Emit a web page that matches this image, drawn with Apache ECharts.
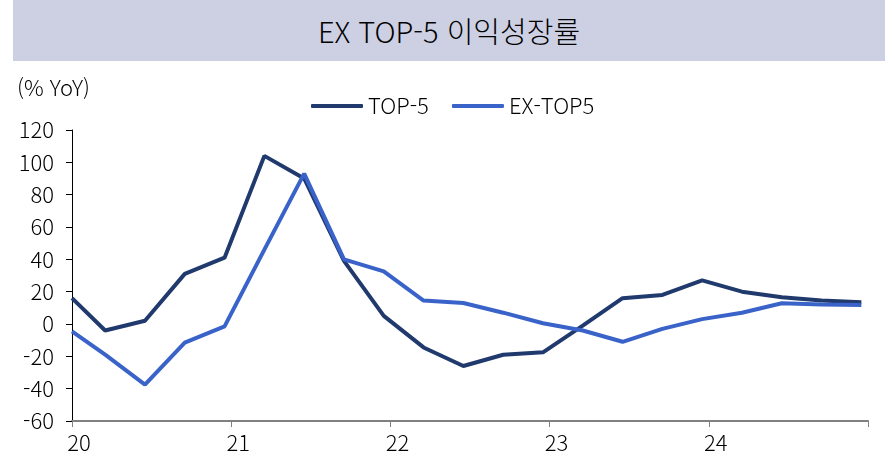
<!doctype html>
<html lang="ko">

<head>
    <meta charset="UTF-8">
    <title>EX TOP-5 이익성장률</title>
    <style>
        body { margin: 0; background: #fff; }
        #title {
            position: absolute; left: 13px; top: 0; width: 872px; height: 61px;
            background: #CDD0E3; color: #000;
            font-family: "Noto Sans CJK KR", sans-serif; font-size: 29px; font-weight: 300;
            line-height: 61px; text-align: center;
        }
    </style>
</head>

<body>
    <div id="title">EX TOP-5 이익성장률</div>
    <div id="main" style="width: 895px;height:469px;"></div>
    <script src="https://cdn.jsdelivr.net/npm/echarts@6/dist/echarts.min.js"></script>
    <script>
        // 분기 데이터 위치 (2020년 1월 기준 개월 수)
        var months = [0, 2.5, 5.5, 8.5, 11.5, 14.5, 17.5, 20.5, 23.5, 26.5, 29.5,
            32.5, 35.5, 38.5, 41.5, 44.5, 47.5, 50.5, 53.5, 56.5, 59.5];
        var yearLabels = ['20', '21', '22', '23', '24'];
        var top5 = [16, -4, 2, 31, 41, 104, 90, 39, 5, -14.5, -26,
            -19, -17.5, -1, 16, 18, 27, 20, 16.5, 14.5, 13.5];
        var exTop5 = [-4.5, -19, -37.5, -11.5, -1.5, 46, 93, 40, 32.5, 14.5, 13,
            7, 0.5, -4, -11, -3, 3, 7, 12.8, 12, 11.7];

        var font = '"Noto Sans CJK KR", sans-serif';
        var myChart = echarts.init(document.getElementById('main'));

        function pairs(vals) {
            return vals.map(function (v, i) { return [months[i], v]; });
        }

        var option = {
            animation: false,
            textStyle: { fontFamily: font, fontWeight: 300 },
            graphic: [{
                type: 'text', left: 17, top: 77,
                style: { text: '(% YoY)', font: '300 22px ' + font, fill: '#000' }
            }],
            legend: {
                left: 306, top: 90,
                itemWidth: 52, itemHeight: 4, itemGap: 24,
                icon: 'roundRect',
                textStyle: { fontSize: 22, color: '#000', fontFamily: font, fontWeight: 300 },
                data: ['TOP-5', 'EX-TOP5']
            },
            grid: { left: 72, right: 27, top: 130, bottom: 48 },
            xAxis: [{
                type: 'value', min: 0, max: 60, interval: 12,
                axisLine: { show: false }, axisTick: { show: false }, splitLine: { show: false },
                axisLabel: {
                    fontSize: 22, fontWeight: 300, color: '#000', margin: 11, padding: [0, 0, 0, 14],
                    formatter: function (v) { return yearLabels[v / 12] || ''; }
                }
            }, {
                type: 'value', min: 0, max: 60, interval: 12, position: 'bottom',
                axisLine: { onZero: true, lineStyle: { color: '#808080', width: 2 } },
                axisTick: { show: true, length: 6, lineStyle: { color: '#808080' } },
                axisLabel: { show: false }, splitLine: { show: false }
            }],
            yAxis: {
                type: 'value', min: -60, max: 120, interval: 20,
                axisLine: { show: true, lineStyle: { color: '#000' } },
                axisTick: { show: true, length: 6, lineStyle: { color: '#000' } },
                axisLabel: { fontSize: 22, fontWeight: 300, color: '#000', margin: 18 },
                splitLine: { show: false }
            },
            series: [{
                name: 'TOP-5', type: 'line', xAxisIndex: 0, showSymbol: false,
                color: '#213A6E', lineStyle: { width: 4 },
                data: pairs(top5)
            }, {
                name: 'EX-TOP5', type: 'line', xAxisIndex: 0, showSymbol: false,
                color: '#3A63C9', lineStyle: { width: 4 },
                data: pairs(exTop5)
            }]
        };

        myChart.setOption(option);
    </script>
</body>

</html>
